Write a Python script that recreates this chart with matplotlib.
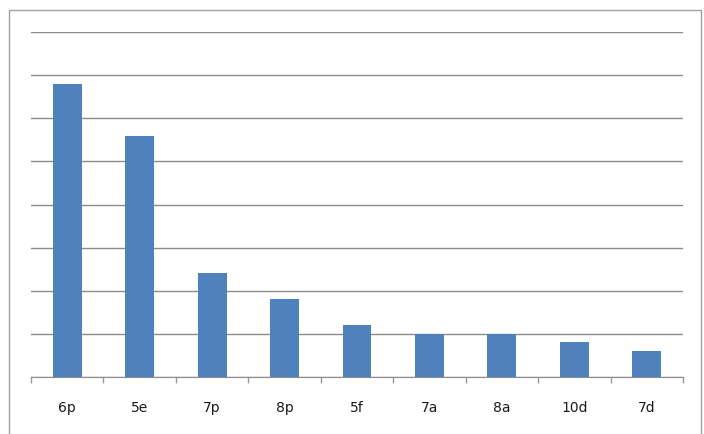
import matplotlib
matplotlib.use('Agg')
import matplotlib.pyplot as plt
from matplotlib.patches import Rectangle
import numpy as np

categories = ['6p', '5e', '7p', '8p', '5f', '7a', '8a', '10d', '7d']
values = [34, 28, 12, 9, 6, 5, 5, 4, 3]

W, H = 704, 435
fig = plt.figure(figsize=(W / 100, H / 100), dpi=100)

# chart area border
fig.patches.append(Rectangle((9 / W, -0.05), (701 - 9) / W, 1.05 - 11 / H,
                             transform=fig.transFigure, fill=False,
                             edgecolor='#a0a0a0', linewidth=1))

ax = fig.add_axes([31 / W, (H - 377.7) / H, (683 - 31) / W, (377.7 - 33.3) / H])
x = np.arange(len(categories))
ax.bar(x, values, width=0.4, color='#4f81bd', zorder=3)

ax.set_xlim(-0.5, len(categories) - 0.5)
ax.set_ylim(0, 40)
ax.set_yticks(np.arange(0, 41, 5))
ax.yaxis.grid(True, color='#8c8c8c', linewidth=1)
ax.tick_params(axis='y', length=0, labelleft=False)

ax.set_xticks(x)
ax.set_xticklabels(categories, fontsize=10, color='#1a1a1a')
ax.set_xticks(np.arange(-0.5, len(categories), 1), minor=True)
ax.tick_params(axis='x', which='major', length=0, pad=17)
ax.tick_params(axis='x', which='minor', length=4, color='#9a9a9a', width=1)

for side in ['top', 'right', 'left']:
    ax.spines[side].set_visible(False)
ax.spines['bottom'].set_color('#8c8c8c')
ax.set_axisbelow(True)

plt.savefig('out.png', dpi=100)
